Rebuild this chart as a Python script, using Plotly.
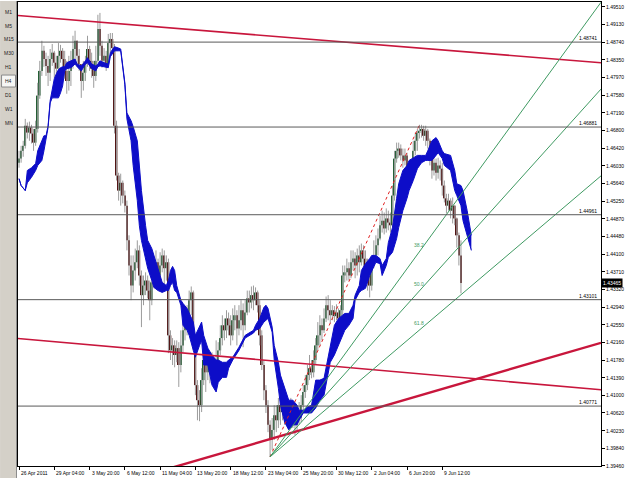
import plotly.graph_objects as go

# ---------------- data (H4 bars, index = bar number) ----------------
first_open = 1.4610
closes = [
    1.4619, 1.4636, 1.4647, 1.4691, 1.4676, 1.4687, 1.4674, 1.4654, 1.4684, 1.4757,
    1.4811, 1.4855, 1.4837, 1.4822, 1.4807, 1.4837, 1.4851, 1.4829, 1.4816, 1.4844,
    1.4855, 1.4837, 1.4811, 1.4789, 1.4811, 1.4829, 1.4859, 1.4877, 1.4844, 1.4826,
    1.4789, 1.4807, 1.4829, 1.4859, 1.4833, 1.4816, 1.4800, 1.4833, 1.4903, 1.4866,
    1.4833, 1.4844, 1.4826, 1.4872, 1.4881, 1.4861, 1.4691, 1.4582, 1.4549, 1.4566,
    1.4538, 1.4516, 1.4440, 1.4385, 1.4341, 1.4374, 1.4392, 1.4418, 1.4363, 1.4320,
    1.4341, 1.4352, 1.4330, 1.4309, 1.4348, 1.4374, 1.4392, 1.4363, 1.4385, 1.4407,
    1.4379, 1.4392, 1.4232, 1.4199, 1.4210, 1.4189, 1.4204, 1.4167, 1.4210, 1.4243,
    1.4269, 1.4254, 1.4309, 1.4326, 1.4221, 1.4123, 1.4090, 1.4079, 1.4134, 1.4178,
    1.4151, 1.4167, 1.4156, 1.4173, 1.4145, 1.4167, 1.4199, 1.4226, 1.4254, 1.4243,
    1.4269, 1.4254, 1.4232, 1.4265, 1.4276, 1.4247, 1.4265, 1.4287, 1.4254, 1.4282,
    1.4313, 1.4304, 1.4320, 1.4309, 1.4326, 1.4298, 1.4232, 1.4167, 1.4112, 1.4079,
    1.4036, 1.4003, 1.4025, 1.4057, 1.4046, 1.4079, 1.4064, 1.4079, 1.4057, 1.4073,
    1.4057, 1.4068, 1.4046, 1.4036, 1.4064, 1.4051, 1.4079, 1.4108, 1.4123, 1.4145,
    1.4160, 1.4151, 1.4178, 1.4210, 1.4232, 1.4254, 1.4243, 1.4269, 1.4298, 1.4287,
    1.4276, 1.4287, 1.4274, 1.4282, 1.4269, 1.4287, 1.4363, 1.4370, 1.4379, 1.4363,
    1.4392, 1.4400, 1.4385, 1.4407, 1.4392, 1.4418, 1.4400, 1.4379, 1.4363, 1.4341,
    1.4385, 1.4407, 1.4429, 1.4444, 1.4473, 1.4483, 1.4466, 1.4488, 1.4479, 1.4473,
    1.4538, 1.4619, 1.4636, 1.4641, 1.4626, 1.4615, 1.4626, 1.4593, 1.4575, 1.4597,
    1.4636, 1.4658, 1.4676, 1.4680, 1.4684, 1.4669, 1.4680, 1.4658, 1.4626, 1.4593,
    1.4610, 1.4588, 1.4604, 1.4597, 1.4560, 1.4532, 1.4516, 1.4527, 1.4505, 1.4516,
    1.4488, 1.4451, 1.4407, 1.43465,
]
highs = [
    1.4636, 1.4647, 1.4658, 1.4706, 1.4698, 1.4700, 1.4693, 1.4684, 1.4702, 1.4785,
    1.4833, 1.4877, 1.4866, 1.4851, 1.4844, 1.4859, 1.4870, 1.4855, 1.4844, 1.4872,
    1.4868, 1.4861, 1.4855, 1.4833, 1.4844, 1.4855, 1.4888, 1.4899, 1.4877, 1.4859,
    1.4826, 1.4833, 1.4844, 1.4888, 1.4866, 1.4851, 1.4833, 1.4866, 1.4934, 1.4938,
    1.4877, 1.4861, 1.4855, 1.4892, 1.4894, 1.4894, 1.4870, 1.4702, 1.4588, 1.4586,
    1.4571, 1.4549, 1.4527, 1.4451, 1.4407, 1.4407, 1.4422, 1.4440, 1.4429, 1.4374,
    1.4363, 1.4370, 1.4363, 1.4352, 1.4366, 1.4400, 1.4418, 1.4400, 1.4414, 1.4422,
    1.4418, 1.4407, 1.4400, 1.4243, 1.4226, 1.4221, 1.4221, 1.4217, 1.4243, 1.4269,
    1.4287, 1.4298, 1.4330, 1.4339, 1.4330, 1.4232, 1.4134, 1.4112, 1.4160, 1.4210,
    1.4195, 1.4189, 1.4189, 1.4195, 1.4182, 1.4221, 1.4217, 1.4254, 1.4276, 1.4269,
    1.4287, 1.4282, 1.4276, 1.4291, 1.4298, 1.4287, 1.4298, 1.4309, 1.4302, 1.4309,
    1.4330, 1.4330, 1.4339, 1.4341, 1.4337, 1.4330, 1.4309, 1.4243, 1.4178, 1.4123,
    1.4090, 1.4046, 1.4051, 1.4079, 1.4079, 1.4095, 1.4090, 1.4101, 1.4095, 1.4095,
    1.4090, 1.4095, 1.4079, 1.4068, 1.4079, 1.4086, 1.4101, 1.4123, 1.4145, 1.4167,
    1.4189, 1.4178, 1.4199, 1.4226, 1.4261, 1.4276, 1.4269, 1.4291, 1.4317, 1.4320,
    1.4309, 1.4298, 1.4296, 1.4300, 1.4291, 1.4298, 1.4385, 1.4385, 1.4400, 1.4392,
    1.4418, 1.4418, 1.4414, 1.4422, 1.4429, 1.4433, 1.4429, 1.4418, 1.4400, 1.4385,
    1.4400, 1.4440, 1.4451, 1.4466, 1.4494, 1.4505, 1.4501, 1.4510, 1.4505, 1.4501,
    1.4560, 1.4636, 1.4654, 1.4654, 1.4650, 1.4641, 1.4641, 1.4632, 1.4604, 1.4615,
    1.4658, 1.4676, 1.4684, 1.4693, 1.4693, 1.4691, 1.4691, 1.4684, 1.4663, 1.4636,
    1.4636, 1.4619, 1.4621, 1.4615, 1.4610, 1.4571, 1.4542, 1.4542, 1.4532, 1.4534,
    1.4516, 1.4490, 1.4457, 1.4440,
]
lows = [
    1.4599, 1.4610, 1.4623, 1.4641, 1.4663, 1.4658, 1.4652, 1.4636, 1.4647, 1.4676,
    1.4750, 1.4800, 1.4820, 1.4800, 1.4778, 1.4789, 1.4822, 1.4796, 1.4789, 1.4811,
    1.4829, 1.4820, 1.4794, 1.4761, 1.4768, 1.4778, 1.4816, 1.4833, 1.4820, 1.4811,
    1.4752, 1.4768, 1.4789, 1.4820, 1.4811, 1.4796, 1.4774, 1.4789, 1.4829, 1.4844,
    1.4818, 1.4820, 1.4811, 1.4818, 1.4851, 1.4848, 1.4674, 1.4571, 1.4527, 1.4516,
    1.4521, 1.4501, 1.4418, 1.4363, 1.4309, 1.4326, 1.4352, 1.4379, 1.4341, 1.4250,
    1.4298, 1.4320, 1.4313, 1.4265, 1.4298, 1.4335, 1.4357, 1.4341, 1.4348, 1.4370,
    1.4330, 1.4352, 1.4193, 1.4178, 1.4167, 1.4162, 1.4173, 1.4119, 1.4151, 1.4195,
    1.4221, 1.4232, 1.4243, 1.4276, 1.4199, 1.4101, 1.4046, 1.4044, 1.4064, 1.4123,
    1.4108, 1.4134, 1.4127, 1.4138, 1.4125, 1.4134, 1.4151, 1.4189, 1.4210, 1.4221,
    1.4226, 1.4232, 1.4210, 1.4221, 1.4243, 1.4210, 1.4232, 1.4243, 1.4206, 1.4243,
    1.4276, 1.4282, 1.4291, 1.4287, 1.4298, 1.4282, 1.4210, 1.4156, 1.4090, 1.4062,
    1.4020, 1.3966, 1.3981, 1.4003, 1.4020, 1.4029, 1.4036, 1.4046, 1.4036, 1.4046,
    1.4031, 1.4042, 1.4029, 1.4014, 1.4020, 1.4036, 1.4042, 1.4068, 1.4095, 1.4112,
    1.4134, 1.4138, 1.4140, 1.4167, 1.4199, 1.4210, 1.4221, 1.4237, 1.4261, 1.4265,
    1.4258, 1.4265, 1.4261, 1.4265, 1.4261, 1.4265, 1.4276, 1.4348, 1.4352, 1.4352,
    1.4357, 1.4374, 1.4357, 1.4363, 1.4370, 1.4385, 1.4374, 1.4359, 1.4330, 1.4315,
    1.4330, 1.4379, 1.4392, 1.4407, 1.4440, 1.4457, 1.4453, 1.4457, 1.4462, 1.4457,
    1.4466, 1.4527, 1.4610, 1.4621, 1.4615, 1.4599, 1.4604, 1.4575, 1.4560, 1.4566,
    1.4588, 1.4626, 1.4636, 1.4663, 1.4665, 1.4658, 1.4647, 1.4641, 1.4604, 1.4575,
    1.4582, 1.4571, 1.4575, 1.4571, 1.4538, 1.4523, 1.4499, 1.4505, 1.4488, 1.4477,
    1.4473, 1.4424, 1.4385, 1.4324,
]

# cloud (two spans) sampled at bar indices
cloud_idx = [
    0, 1, 3, 4, 6, 8, 9, 11, 12, 13,
    14, 15, 16, 17, 18, 19, 20, 21, 22, 23,
    25, 27, 28, 30, 32, 33, 35, 37, 38, 39,
    41, 43, 44, 46, 48, 49, 51, 52, 54, 55,
    57, 58, 59, 61, 62, 64, 65, 67, 69, 71,
    72, 73, 74, 75, 76, 78, 79, 81, 82, 84,
    85, 87, 88, 89, 91, 93, 95, 96, 98, 100,
    101, 103, 106, 109, 113, 114, 116, 118, 119, 120,
    122, 123, 125, 126, 128, 130, 132, 134, 135, 137,
    139, 141, 143, 145, 147, 148, 150, 152, 154, 157,
    159, 161, 162, 164, 165, 167, 169, 170, 172, 174,
    175, 177, 178, 180, 182, 183, 185, 187, 188, 190,
    192, 194, 196, 197, 199, 201, 202, 204, 205, 208,
    210, 211, 213, 214, 216, 218,
]
span_top = [
    1.4575, 1.4560, 1.4549, 1.4593, 1.4599, 1.4608, 1.4636, 1.4658, 1.4669, 1.4669,
    1.4691, 1.4746, 1.4772, 1.4794, 1.4805, 1.4814, 1.4818, 1.4820, 1.4820, 1.4829,
    1.4833, 1.4837, 1.4826, 1.4822, 1.4833, 1.4840, 1.4826, 1.4822, 1.4826, 1.4833,
    1.4829, 1.4826, 1.4851, 1.4864, 1.4861, 1.4859, 1.4785, 1.4719, 1.4702, 1.4689,
    1.4658, 1.4593, 1.4549, 1.4472, 1.4440, 1.4422, 1.4407, 1.4379, 1.4348, 1.4341,
    1.4352, 1.4374, 1.4383, 1.4374, 1.4341, 1.4309, 1.4302, 1.4291, 1.4280, 1.4261,
    1.4232, 1.4254, 1.4261, 1.4232, 1.4204, 1.4189, 1.4178, 1.4178, 1.4173, 1.4173,
    1.4178, 1.4184, 1.4206, 1.4232, 1.4243, 1.4254, 1.4269, 1.4293, 1.4298, 1.4291,
    1.4250, 1.4210, 1.4173, 1.4145, 1.4116, 1.4090, 1.4090, 1.4079, 1.4068, 1.4068,
    1.4075, 1.4079, 1.4134, 1.4134, 1.4138, 1.4162, 1.4210, 1.4254, 1.4269, 1.4280,
    1.4280, 1.4298, 1.4320, 1.4341, 1.4374, 1.4389, 1.4400, 1.4407, 1.4407, 1.4400,
    1.4385, 1.4400, 1.4435, 1.4468, 1.4532, 1.4564, 1.4593, 1.4604, 1.4615, 1.4621,
    1.4626, 1.4626, 1.4626, 1.4636, 1.4658, 1.4665, 1.4658, 1.4636, 1.4630, 1.4626,
    1.4593, 1.4564, 1.4560, 1.4549, 1.4505, 1.4451,
]
span_bot = [
    1.4575, 1.4560, 1.4549, 1.4566, 1.4578, 1.4593, 1.4604, 1.4615, 1.4636, 1.4658,
    1.4687, 1.4741, 1.4752, 1.4752, 1.4752, 1.4752, 1.4763, 1.4778, 1.4811, 1.4816,
    1.4818, 1.4826, 1.4820, 1.4811, 1.4826, 1.4829, 1.4816, 1.4811, 1.4820, 1.4822,
    1.4820, 1.4818, 1.4842, 1.4855, 1.4855, 1.4855, 1.4781, 1.4706, 1.4658, 1.4604,
    1.4527, 1.4472, 1.4440, 1.4400, 1.4379, 1.4352, 1.4337, 1.4330, 1.4326, 1.4330,
    1.4330, 1.4341, 1.4348, 1.4330, 1.4326, 1.4298, 1.4254, 1.4243, 1.4232, 1.4199,
    1.4184, 1.4210, 1.4221, 1.4167, 1.4167, 1.4123, 1.4108, 1.4129, 1.4140, 1.4140,
    1.4160, 1.4178, 1.4199, 1.4226, 1.4237, 1.4243, 1.4247, 1.4261, 1.4265, 1.4269,
    1.4239, 1.4178, 1.4116, 1.4079, 1.4042, 1.4025, 1.4036, 1.4036, 1.4046, 1.4062,
    1.4062, 1.4062, 1.4073, 1.4090, 1.4101, 1.4123, 1.4173, 1.4189, 1.4210, 1.4243,
    1.4254, 1.4269, 1.4309, 1.4326, 1.4330, 1.4335, 1.4363, 1.4374, 1.4392, 1.4389,
    1.4363, 1.4385, 1.4403, 1.4414, 1.4444, 1.4468, 1.4505, 1.4532, 1.4549, 1.4571,
    1.4597, 1.4610, 1.4615, 1.4615, 1.4615, 1.4626, 1.4632, 1.4619, 1.4604, 1.4593,
    1.4549, 1.4538, 1.4516, 1.4483, 1.4451, 1.4418,
]

level_values = [1.48741, 1.46881, 1.44961, 1.43101, 1.40771]
level_labels = ["1.48741", "1.46881", "1.44961", "1.43101", "1.40771"]

trend_top = ((0, 1.4932), (280, 1.4829))
trend_mid = ((0, 1.4225), (280, 1.4113))
trend_up = ((75, 1.3944), (280, 1.4215))

fan_start = (121, 1.3966)
fan_end = (193, 1.4693)
fan_levels = [0.382, 0.5, 0.618]
fan_labels = ["38.2", "50.0", "61.8"]

time_tick_idx = [0, 17, 34, 51, 68, 85, 102, 119, 136, 153, 170, 187, 204]
time_labels = ["26 Apr 2011", "29 Apr 04:00", "3 May 20:00", "6 May 12:00",
               "11 May 04:00", "13 May 20:00", "18 May 12:00", "23 May 04:00",
               "25 May 20:00", "30 May 12:00", "2 Jun 04:00", "6 Jun 20:00",
               "9 Jun 12:00"]
price_ticks = [1.49510, 1.49130, 1.48740, 1.48350, 1.47970, 1.47580, 1.47190,
               1.46800, 1.46420, 1.46030, 1.45640, 1.45250, 1.44870, 1.44480,
               1.44100, 1.43710, 1.43320, 1.42940, 1.42550, 1.42160, 1.41780,
               1.41390, 1.41000, 1.40620, 1.40230, 1.39840, 1.39460]
timeframes = ["M1", "M5", "M15", "M30", "H1", "H4", "D1", "W1", "MN"]
active_tf = "H4"
current_price = 1.43465

# ---------------- styling ----------------
X_RANGE = [-0.5, 280.5]
Y_RANGE = [1.39459, 1.49619]
W, H = 625, 478
ML, MR, MT, MB = 18, 22, 1, 12
PW, PH = W - ML - MR, H - MT - MB
FONT = "Liberation Sans"
BLUE = "#0d0dc8"
RED = "#c8163c"
FAN_GREEN = "#3f9a62"
UP_BODY = "#245f35"
DN_BODY = "#521515"
WICK = "#9c9c9c"


def px_x(X):
    return (X - ML) / PW


def px_y(Y):
    return (MT + PH - Y) / PH


fig = go.Figure()

n = len(closes)
opens = [first_open] + closes[:-1]
idx = list(range(n))

# wicks
wx, wy = [], []
for i in idx:
    wx += [i, i, None]
    wy += [lows[i], highs[i], None]
fig.add_trace(go.Scatter(x=wx, y=wy, mode="lines",
                         line=dict(color=WICK, width=1), hoverinfo="skip"))

# bodies
for up, col in ((True, UP_BODY), (False, DN_BODY)):
    bx, bb, bh = [], [], []
    for i in idx:
        if (closes[i] >= opens[i]) == up:
            bx.append(i)
            bb.append(min(opens[i], closes[i]))
            bh.append(max(abs(closes[i] - opens[i]), 0.00012))
    fig.add_trace(go.Bar(x=bx, y=bh, base=bb, width=0.8,
                         marker=dict(color=col, line=dict(width=0)),
                         hoverinfo="skip"))

# cloud
fig.add_trace(go.Scatter(x=cloud_idx, y=span_top, mode="lines",
                         line=dict(color=BLUE, width=1), hoverinfo="skip"))
fig.add_trace(go.Scatter(x=cloud_idx, y=span_bot, mode="lines",
                         line=dict(color=BLUE, width=1), fill="tonexty",
                         fillcolor=BLUE, hoverinfo="skip"))


def extend(p1, p2, x0, x1):
    (a, ya), (b, yb) = p1, p2
    k = (yb - ya) / (b - a)
    return [x0, x1], [ya + k * (x0 - a), ya + k * (x1 - a)]


# horizontal levels
for v, lab in zip(level_values, level_labels):
    fig.add_shape(type="line", xref="paper", x0=0, x1=1, yref="y", y0=v, y1=v,
                  line=dict(color="#5a5a5a", width=1))
    fig.add_annotation(xref="paper", x=1, xanchor="right", xshift=-2,
                       yref="y", y=v, yanchor="bottom", yshift=-1,
                       text=lab, showarrow=False,
                       font=dict(size=5, color="#000000", family=FONT))

# trend lines
for (p1, p2), w in ((trend_top, 1.6), (trend_mid, 1.6), (trend_up, 2.4)):
    xs, ys = extend(p1, p2, X_RANGE[0], X_RANGE[1])
    fig.add_trace(go.Scatter(x=xs, y=ys, mode="lines",
                             line=dict(color=RED, width=w), hoverinfo="skip"))

# fibonacci fan
fx0, fy0 = fan_start
fx1, fy1 = fan_end
fig.add_trace(go.Scatter(x=[fx0, fx1], y=[fy0, fy1], mode="lines",
                         line=dict(color="#e02020", width=1, dash="dot"),
                         hoverinfo="skip"))
for lv, lab in zip(fan_levels, fan_labels):
    target = fy1 - lv * (fy1 - fy0)
    xs, ys = extend((fx0, fy0), (fx1, target), fx0, X_RANGE[1])
    fig.add_trace(go.Scatter(x=xs, y=ys, mode="lines",
                             line=dict(color=FAN_GREEN, width=1), hoverinfo="skip"))
    fig.add_annotation(x=fx1, y=target, yshift=7, text=lab, showarrow=False,
                       font=dict(size=5, color=FAN_GREEN, family=FONT))

# time labels
for ti, lab in zip(time_tick_idx, time_labels):
    fig.add_annotation(xref="x", x=ti, xanchor="left", xshift=0,
                       yref="paper", y=0, yanchor="top", yshift=-2,
                       text=lab, showarrow=False,
                       font=dict(size=5, color="#000000", family=FONT))

# current price marker
fig.add_annotation(xref="paper", x=1, xanchor="left", xshift=0,
                   yref="y", y=current_price, yanchor="middle",
                   text=f"{current_price:.5f}", showarrow=False,
                   bgcolor="#000000", borderpad=1,
                   font=dict(size=5, color="#ffffff", family=FONT))

# left toolbar
fig.add_shape(type="rect", xref="paper", yref="paper",
              x0=px_x(0), x1=px_x(16), y0=px_y(H), y1=px_y(0),
              fillcolor="#d4d0c8", line=dict(width=0), layer="below")
fig.add_shape(type="line", xref="paper", yref="paper",
              x0=px_x(16.5), x1=px_x(16.5), y0=px_y(H), y1=px_y(0),
              line=dict(color="#8c8c8c", width=1))
for k, tf in enumerate(timeframes):
    yc = 10.7 + k * 13.9
    if tf == active_tf:
        fig.add_shape(type="rect", xref="paper", yref="paper",
                      x0=px_x(1.5), x1=px_x(15.5), y0=px_y(yc + 6), y1=px_y(yc - 6),
                      fillcolor="#f6f6f4", line=dict(color="#8a8a8a", width=1))
    fig.add_annotation(xref="paper", yref="paper", x=px_x(8.5), y=px_y(yc),
                       text=tf, showarrow=False, xanchor="center", yanchor="middle",
                       font=dict(size=5, color="#202020", family=FONT))

fig.update_layout(
    width=W, height=H,
    margin=dict(l=ML, r=MR, t=MT, b=MB, pad=0),
    paper_bgcolor="#ffffff", plot_bgcolor="#ffffff",
    showlegend=False, barmode="overlay",
    font=dict(family=FONT, size=5, color="#000000"),
    xaxis=dict(range=X_RANGE, tickvals=time_tick_idx, showticklabels=False,
               ticks="outside", ticklen=3, tickcolor="#000000",
               showgrid=False, zeroline=False, showline=True,
               linecolor="#000000", linewidth=1, mirror=True),
    yaxis=dict(range=Y_RANGE, side="right", tickvals=price_ticks,
               ticktext=[f"{v:.5f}" for v in price_ticks],
               ticks="outside", ticklen=3, tickcolor="#000000",
               tickfont=dict(size=5, family=FONT, color="#000000"),
               showgrid=False, zeroline=False, showline=True,
               linecolor="#000000", linewidth=1, mirror=True),
)

fig.write_html("out.html")
